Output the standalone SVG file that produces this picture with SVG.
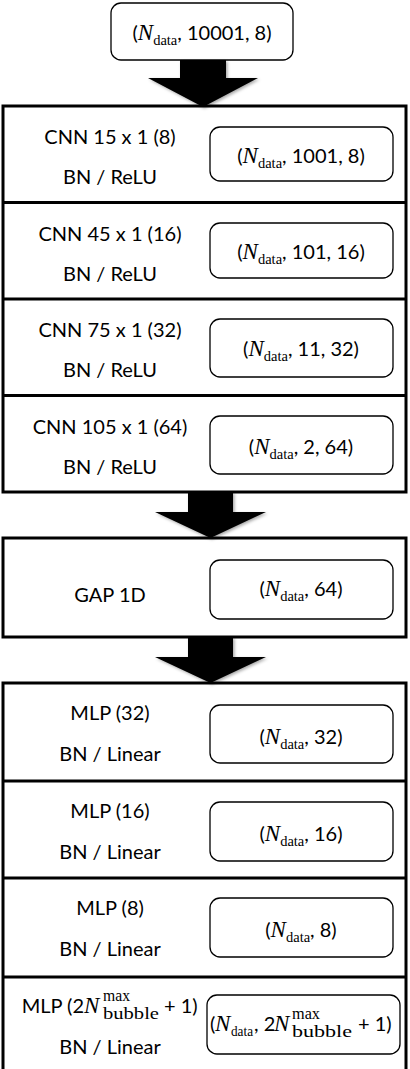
<svg xmlns="http://www.w3.org/2000/svg" width="410" height="1069" viewBox="0 0 410 1069">
<defs>
<style>
.blk{fill:#fff;stroke:#000;stroke-width:3}
.dv{stroke:#000;stroke-width:3}
.ib{fill:#fff;stroke:#000;stroke-width:1.3}
.t{font-family:Lato,"Liberation Sans",sans-serif;font-size:20px;fill:#000}
.m{font-family:"Liberation Serif",serif;font-style:italic;font-size:23px}
.sub{font-family:"Liberation Serif",serif;font-style:normal;font-size:14.5px}
.sc{font-family:"Liberation Serif",serif;font-size:17px;fill:#000}
.arr{fill:#000;filter:url(#sh)}
</style>
<filter id="sh" x="-20%" y="-20%" width="140%" height="140%">
<feDropShadow dx="1.5" dy="1.5" stdDeviation="1.5" flood-color="#000" flood-opacity="0.35"/>
</filter>
</defs>
<rect width="410" height="1069" fill="#fff"/>

<g id="input">
<rect x="111" y="3" width="182" height="57" rx="10" class="ib"/>
<text x="202" y="40" class="t" text-anchor="middle">(<tspan class="m">N</tspan><tspan class="sub" dy="5">data</tspan><tspan dy="-5">, 10001, 8)</tspan></text>
</g>

<g id="cnn-block">
<rect x="3" y="106" width="403" height="386" class="blk"/>
<line x1="3" y1="202.5" x2="406" y2="202.5" class="dv"/>
<line x1="3" y1="299" x2="406" y2="299" class="dv"/>
<line x1="3" y1="395.5" x2="406" y2="395.5" class="dv"/>
</g>
<g id="cnn1">
<text class="t" x="110" y="144" text-anchor="middle">CNN 15 x 1 (8)</text>
<text class="t" x="110" y="184" text-anchor="middle">BN / ReLU</text>
<rect x="210" y="127" width="183" height="54" rx="10" class="ib"/>
<text class="t" x="301" y="163" text-anchor="middle">(<tspan class="m">N</tspan><tspan class="sub" dy="5">data</tspan><tspan dy="-5">, 1001, 8)</tspan></text>
</g>
<g id="cnn2">
<text class="t" x="110" y="240.5" text-anchor="middle">CNN 45 x 1 (16)</text>
<text class="t" x="110" y="280.5" text-anchor="middle">BN / ReLU</text>
<rect x="210" y="223" width="183" height="55" rx="10" class="ib"/>
<text class="t" x="301" y="259" text-anchor="middle">(<tspan class="m">N</tspan><tspan class="sub" dy="5">data</tspan><tspan dy="-5">, 101, 16)</tspan></text>
</g>
<g id="cnn3">
<text class="t" x="110" y="337" text-anchor="middle">CNN 75 x 1 (32)</text>
<text class="t" x="110" y="377" text-anchor="middle">BN / ReLU</text>
<rect x="210" y="319" width="183" height="58" rx="10" class="ib"/>
<text class="t" x="301" y="356" text-anchor="middle">(<tspan class="m">N</tspan><tspan class="sub" dy="5">data</tspan><tspan dy="-5">, 11, 32)</tspan></text>
</g>
<g id="cnn4">
<text class="t" x="110" y="433.5" text-anchor="middle">CNN 105 x 1 (64)</text>
<text class="t" x="110" y="473.5" text-anchor="middle">BN / ReLU</text>
<rect x="210" y="416" width="183" height="58" rx="10" class="ib"/>
<text class="t" x="301" y="454" text-anchor="middle">(<tspan class="m">N</tspan><tspan class="sub" dy="5">data</tspan><tspan dy="-5">, 2, 64)</tspan></text>
</g>

<g id="gap">
<rect x="3" y="538" width="403" height="99" class="blk"/>
<text class="t" x="110" y="602" text-anchor="middle">GAP 1D</text>
<rect x="210" y="560" width="183" height="59" rx="10" class="ib"/>
<text class="t" x="301" y="596" text-anchor="middle">(<tspan class="m">N</tspan><tspan class="sub" dy="5">data</tspan><tspan dy="-5">, 64)</tspan></text>
</g>

<g id="mlp-block">
<rect x="3" y="683" width="403" height="395" class="blk"/>
<line x1="3" y1="781" x2="406" y2="781" class="dv"/>
<line x1="3" y1="878" x2="406" y2="878" class="dv"/>
<line x1="3" y1="977" x2="406" y2="977" class="dv"/>
</g>
<g id="mlp1">
<text class="t" x="110" y="720" text-anchor="middle">MLP (32)</text>
<text class="t" x="110" y="761" text-anchor="middle">BN / Linear</text>
<rect x="210" y="705" width="183" height="58" rx="10" class="ib"/>
<text class="t" x="301" y="744" text-anchor="middle">(<tspan class="m">N</tspan><tspan class="sub" dy="5">data</tspan><tspan dy="-5">, 32)</tspan></text>
</g>
<g id="mlp2">
<text class="t" x="110" y="818" text-anchor="middle">MLP (16)</text>
<text class="t" x="110" y="859" text-anchor="middle">BN / Linear</text>
<rect x="210" y="802" width="183" height="59" rx="10" class="ib"/>
<text class="t" x="301" y="841" text-anchor="middle">(<tspan class="m">N</tspan><tspan class="sub" dy="5">data</tspan><tspan dy="-5">, 16)</tspan></text>
</g>
<g id="mlp3">
<text class="t" x="110" y="915" text-anchor="middle">MLP (8)</text>
<text class="t" x="110" y="956" text-anchor="middle">BN / Linear</text>
<rect x="210" y="898" width="183" height="59" rx="10" class="ib"/>
<text class="t" x="301" y="937" text-anchor="middle">(<tspan class="m">N</tspan><tspan class="sub" dy="5">data</tspan><tspan dy="-5">, 8)</tspan></text>
</g>
<g id="mlp4">
<text class="t" x="84" y="1013" text-anchor="end">MLP (2</text>
<text class="m" x="84" y="1013">N</text>
<text class="sc" x="103" y="1001" textLength="27" lengthAdjust="spacingAndGlyphs">max</text>
<text class="sc" x="103" y="1019" textLength="56" lengthAdjust="spacingAndGlyphs">bubble</text>
<text class="t" x="164" y="1013">+ 1)</text>
<text class="t" x="110" y="1054" text-anchor="middle">BN / Linear</text>
<rect x="207" y="995" width="193" height="59" rx="10" class="ib"/>
<text class="t" x="210" y="1031">(</text>
<text class="m" x="215" y="1031">N</text>
<text class="sub" x="231" y="1036" textLength="22" lengthAdjust="spacingAndGlyphs">data</text>
<text class="t" x="254" y="1031">, 2</text>
<text class="m" x="274" y="1031">N</text>
<text class="sc" x="292" y="1019" textLength="28" lengthAdjust="spacingAndGlyphs">max</text>
<text class="sc" x="292" y="1037" textLength="60" lengthAdjust="spacingAndGlyphs">bubble</text>
<text class="t" x="358" y="1031">+ 1)</text>
</g>

<g id="connectors">
<path class="arr" d="M180,60 H226 V78 H258 L203,107 L148,78 H180 Z"/>
<path class="arr" d="M188,492 H233 V512 H266 L210.5,538 L155,512 H188 Z"/>
<path class="arr" d="M188,637 H233 V657 H266 L210.5,683 L155,657 H188 Z"/>
</g>
</svg>
